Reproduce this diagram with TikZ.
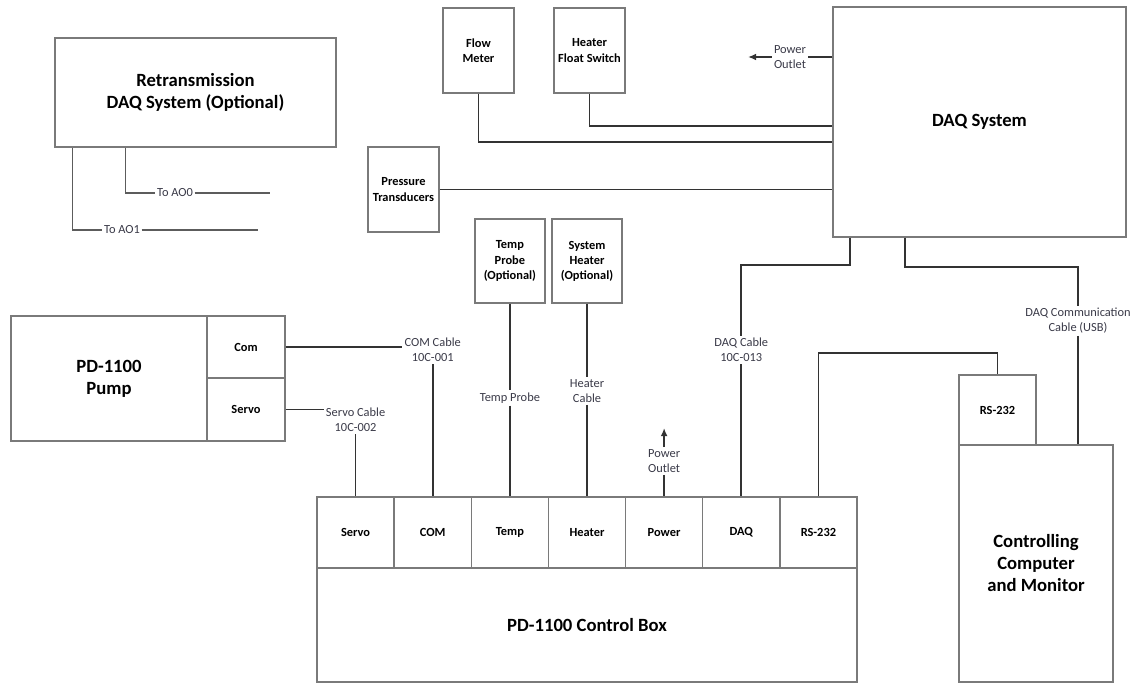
\documentclass[tikz,border=0pt]{standalone}
\usepackage{fontspec}
\setmainfont{Carlito}
\usetikzlibrary{calc,arrows.meta}
\definecolor{boxgray}{HTML}{7A7A7A}
\definecolor{wirec}{HTML}{333333}
\definecolor{lblc}{HTML}{3A3A48}
\begin{document}
\begin{tikzpicture}[x=0.75pt,y=-0.75pt,
  box/.style={draw=boxgray,line width=1pt,inner sep=1pt,align=center,text=black},
  bx/.style 2 args={minimum width=#1*0.75pt,minimum height=#2*0.75pt},
  big/.style={font=\bfseries\fontsize{14}{16.5}\selectfont},
  small/.style={font=\bfseries\fontsize{9.3}{11.3}\selectfont},
  lbl/.style={font=\fontsize{9.3}{11.3}\selectfont,align=center,text=lblc,inner sep=1.5pt},
  wire/.style={draw=wirec,line width=1.3pt},
  thinwire/.style={draw=wirec!80,line width=1pt}]
\fill[white] (0,0) rectangle (1141,683);
\useasboundingbox (0,0) rectangle (1141,683);

% boxes
\node[box,bx={281}{109},big] (retx) at (195.5,92.5) {Retransmission\\DAQ System (Optional)};
\node[box,bx={71}{85},small] (flow) at (478.5,50.5) {Flow\\Meter};
\node[box,bx={71}{85},small] (hfs) at (589.5,50.5) {Heater\\Float Switch};
\node[box,bx={71}{85},small] (press) at (403.5,189.5) {Pressure\\Transducers};
\node[box,bx={293}{230},big] (daq) at (979.5,122) {DAQ System};
\node[box,bx={70}{84},small] (tprobe) at (509.9,261) {Temp\\Probe\\(Optional)};
\node[box,bx={70}{84},small] (sheat) at (587,261) {System\\Heater\\(Optional)};
\node[box,bx={196}{125},big] (pump) at (109,378.5) {PD-1100\\Pump};
\node[box,bx={78}{62},small] (pcom) at (246,347) {Com};
\node[box,bx={78}{63},small] (pservo) at (246,409.5) {Servo};

\node[box,bx={540}{114},big] (cbox) at (587,625) {PD-1100 Control Box};
\node[box,bx={77.14}{71},small] (cservo) at (355.6,532.5) {Servo};
\node[box,bx={77.14}{71},small] (ccom) at (432.7,532.5) {COM};
\node[box,bx={77.14}{71},small] (ctemp) at (509.9,532.5) {Temp};
\node[box,bx={77.14}{71},small] (cheat) at (587,532.5) {Heater};
\node[box,bx={77.14}{71},small] (cpow) at (664.1,532.5) {Power};
\node[box,bx={77.14}{71},small] (cdaq) at (741.3,532.5) {DAQ};
\node[box,bx={77.14}{71},small] (crs) at (818.4,532.5) {RS-232};

\node[box,bx={77}{70},small] (rs) at (997.5,410) {RS-232};
\node[box,bx={154}{237},big] (comp) at (1036,563.5) {Controlling\\Computer\\and Monitor};

% retransmission outputs
\node[lbl,inner sep=1pt] (ao0) at (175,193) {To AO0};
\node[lbl,inner sep=1pt] (ao1) at (122,230) {To AO1};
\coordinate (ao0end) at (270,193);
\coordinate (ao1end) at (258,230);
\draw[thinwire] ($(retx.south west)+(71,0)$) |- (ao0) -- (ao0end);
\draw[thinwire] ($(retx.south west)+(18,0)$) |- (ao1) -- (ao1end);

% DAQ inputs
\node[lbl] (pwrd) at (790,57) {Power\\Outlet};
\coordinate (pwrtip) at (748,57);
\draw[wire] (daq.west |- pwrd) -- (pwrd);
\draw[wire,-{Latex[length=6pt,width=5pt]}] (pwrd) -- (pwrtip);
\draw[wire] (flow.south) |- ($(daq.west)+(0,20)$);
\draw[wire] (hfs.south) |- ($(daq.west)+(0,4)$);
\draw[wire] (press.east) -- (press.east -| daq.west);

% pump cables
\node[lbl] (coml) at (432.7,350) {COM Cable\\10C-001};
\draw[wire] (pcom.east) -- (pcom.east -| coml.west);
\draw[wire] (coml) -- (ccom);
\node[lbl] (svl) at (355.6,420) {Servo Cable\\10C-002};
\draw[wire] (pservo.east) -- (pservo.east -| svl.west);
\draw[wire] (svl) -- (cservo);

% temp / heater / power
\node[lbl] (tpl) at (509.9,398) {Temp Probe};
\draw[wire] (tprobe) -- (tpl) -- (ctemp);
\node[lbl] (hcl) at (587,391) {Heater\\Cable};
\draw[wire] (sheat) -- (hcl) -- (cheat);
\node[lbl] (pwrc) at (664.1,461) {Power\\Outlet};
\coordinate (pwrtip2) at (664.1,428);
\draw[wire] (pwrc) -- (cpow);
\draw[wire,-{Latex[length=6pt,width=5pt]}] (pwrc) -- (pwrtip2);

% DAQ cables
\node[lbl] (dql) at (741.3,350) {DAQ Cable\\10C-013};
\draw[wire] ($(daq.south west)+(18,0)$) |- ($(dql)+(0,-85)$) -- (dql) -- (cdaq);
\node[lbl] (usbl) at (1078,321) {DAQ Communication\\Cable (USB)};
\draw[wire] ($(daq.south west)+(73,0)$) -- ++(0,29) -| (usbl);
\draw[wire] (usbl) -- (usbl |- comp.north);
\draw[wire] (crs.north) |- ($(rs.north)+(0,-21)$) -- (rs.north);
\end{tikzpicture}
\end{document}
